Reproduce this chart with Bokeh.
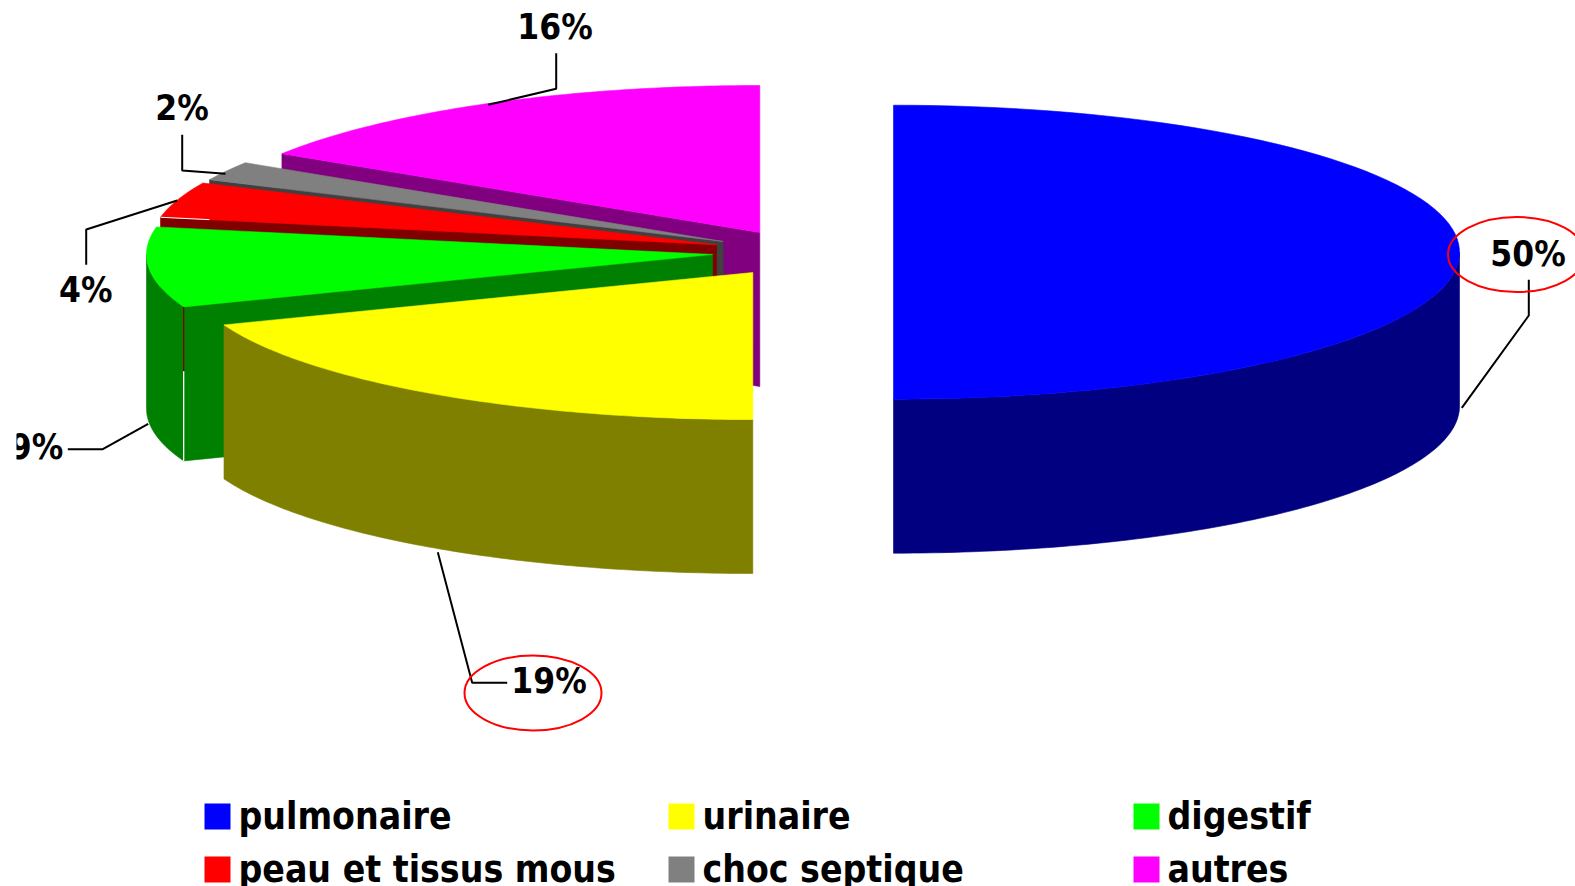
import numpy as np
from bokeh.plotting import figure
from bokeh.core.properties import value
from bokeh.embed import file_html
from bokeh.resources import INLINE

# --- data ---
categories = ["pulmonaire", "urinaire", "digestif", "peau et tissus mous", "choc septique", "autres"]
shares = [50.0, 19.2, 8.8, 3.9, 2.1, 16.0]
share_labels = ["50%", "19%", "9%", "4%", "2%", "16%"]
top_colors = ["#0000ff", "#ffff00", "#00ff00", "#ff0000", "#808080", "#ff00ff"]
side_colors = ["#000080", "#808000", "#008000", "#800000", "#404040", "#800080"]

# --- layout (page pixels) ---
LEFT, TOP, W, H = 16, 0, 1559, 886
RX, RY, DEPTH = 566, 147, 154
apex_x = [893, 752.3, 712, 716, 722.7, 759.3]
apex_y = [251.7, 272, 254, 244.3, 241, 232]
LABEL_SIZE = 35
LEGEND_SIZE = 37
NUDGE = 0.38  # em, baseline correction of the svg text
label_x = [1527.5, 548.5, 36, 85.2, 181.5, 554.5]
label_y = [267, 694, 460, 302.7, 121, 39.3]
leaders = [
    ([1461.3, 1528.3, 1528.3], [407.3, 315, 279.3]),
    ([437.3, 471.7, 506.7], [551.7, 682.3, 682.3]),
    ([147.7, 102.3, 67.3], [423.3, 448.7, 448.7]),
    ([176.7, 85.7, 85.7], [200, 229, 264.3]),
    ([225, 181.7, 181.7], [173.3, 170, 134.3]),
    ([487.7, 555.7, 555.7], [104.3, 88.3, 52.7]),
]
rings = [(1516, 254), (532.5, 692.5)]
RING_W, RING_H = 137, 75
legend_col_x = [204, 668, 1133]
legend_row_y = [803, 856]
SWATCH = 26
LEGEND_TEXT_DX = 34
LEGEND_BASE_DY = 27
FONT = value("DejaVu Sans Condensed")

p = figure(width=W, height=H, x_range=(LEFT, LEFT + W), y_range=(TOP + H, TOP),
           output_backend="svg", toolbar_location=None, min_border=0,
           x_axis_location=None, y_axis_location=None, margin=(TOP, 0, 0, LEFT))
p.grid.visible = False
p.outline_line_color = None
p.background_fill_color = "white"
p.border_fill_color = None


def rim(cx, cy, a0, a1, n=90):
    """Points on the top rim between two clockwise-from-north angles (radians)."""
    t = np.linspace(a0, a1, n)
    return cx + RX * np.sin(t), cy - RY * np.cos(t)


fractions = np.array(shares) / sum(shares)
edges = 2 * np.pi * np.concatenate([[0], np.cumsum(fractions)])


def fill(xs, ys, color):
    p.patch(list(xs), list(ys), fill_color=color, line_color=color, line_width=0.6)


# drawn back to front: last slice first, first slice on top
for i in [5, 4, 3, 2, 1, 0]:
    a0, a1 = edges[i], edges[i + 1]
    cx, cy = apex_x[i], apex_y[i]
    rx0, ry0 = rim(cx, cy, a0, a0, 1)
    # cut face on the leading edge of the slice
    if i in (2, 3, 4, 5):
        fill([cx, rx0[0], rx0[0], cx], [cy, ry0[0], ry0[0] + DEPTH, cy + DEPTH], side_colors[i])
    # outer wall where the rim faces the viewer
    w0, w1 = max(a0, np.pi / 2), min(a1, 3 * np.pi / 2)
    if w1 > w0:
        wx, wy = rim(cx, cy, w0, w1)
        fill(np.concatenate([wx, wx[::-1]]), np.concatenate([wy, wy[::-1] + DEPTH]), side_colors[i])
    # top face
    tx, ty = rim(cx, cy, a0, a1)
    fill(np.concatenate([[cx], tx]), np.concatenate([[cy], ty]), top_colors[i])

# hairline seams visible at the rims
gx, gy = rim(apex_x[2], apex_y[2], edges[2], edges[2], 1)
_, ry = rim(apex_x[3], apex_y[3], edges[3], edges[3], 1)
p.line([gx[0], gx[0]], [gy[0], ry[0] + DEPTH], line_color="#800000", line_width=1.3)
p.line([gx[0], gx[0]], [ry[0] + DEPTH, gy[0] + DEPTH], line_color="white", line_width=1.3)
rx3, ry3 = rim(apex_x[3], apex_y[3], edges[3], edges[3], 1)
p.line([rx3[0], rx3[0] + 49], [ry3[0], ry3[0] + 2.4], line_color="white", line_width=1)

# leader lines
for xs, ys in leaders:
    p.line(xs, ys, line_color="black", line_width=2)

# red hand-drawn style rings
p.ellipse([c[0] for c in rings], [c[1] for c in rings], width=RING_W, height=RING_H,
          fill_color=None, line_color="#ff0000", line_width=2)

# percentage labels
p.text(label_x, [y - NUDGE * LABEL_SIZE for y in label_y], text=share_labels, text_font=FONT,
       text_font_style="bold", text_font_size=f"{LABEL_SIZE}px", text_align="center",
       text_baseline="alphabetic", text_color="black")

# legend
for k, (name, col) in enumerate(zip(categories, top_colors)):
    x0 = legend_col_x[k % 3]
    y0 = legend_row_y[k // 3]
    p.quad(left=[x0], right=[x0 + SWATCH], top=[y0], bottom=[y0 + SWATCH], fill_color=col, line_color=None)
    p.text([x0 + LEGEND_TEXT_DX], [y0 + LEGEND_BASE_DY - NUDGE * LEGEND_SIZE], text=[name], text_font=FONT,
           text_font_style="bold", text_font_size=f"{LEGEND_SIZE}px", text_align="left",
           text_baseline="alphabetic", text_color="black")

open("out.html", "w").write(file_html(p, INLINE))
